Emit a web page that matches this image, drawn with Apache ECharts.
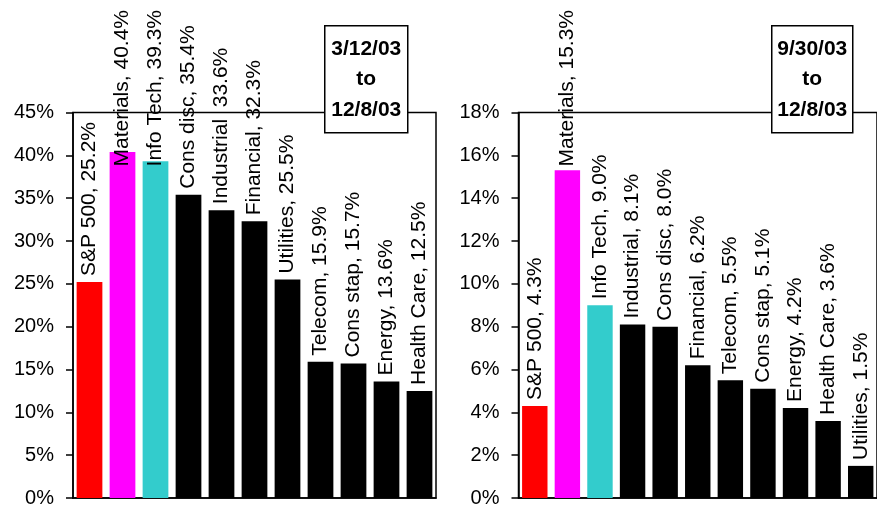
<!DOCTYPE html>
<html>
<head>
<meta charset="utf-8">
<script src="https://cdn.jsdelivr.net/npm/echarts@6/dist/echarts.min.js"></script>
<style>
html,body{margin:0;padding:0;background:#fff;}
#chart{width:877px;height:508px;}
</style>
</head>
<body>
<div id="chart"></div>
<script>
// ---- Data ----
const leftCategories = ['S&P 500','Materials','Info Tech','Cons disc','Industrial','Financial','Utilities','Telecom','Cons stap','Energy','Health Care'];
const leftValues = [25.2, 40.4, 39.3, 35.4, 33.6, 32.3, 25.5, 15.9, 15.7, 13.6, 12.5];
const leftSeparators = [', ', ', ', ', ', ', ', '  ', ', ', ', ', ', ', ', ', ', ', ', '];
const leftPeriod = ['3/12/03', 'to', '12/8/03'];
const leftTicks = {min: 0, max: 45, interval: 5};

const rightCategories = ['S&P 500','Materials','Info Tech','Industrial','Cons disc','Financial','Telecom','Cons stap','Energy','Health Care','Utilities'];
const rightValues = [4.3, 15.3, 9.0, 8.1, 8.0, 6.2, 5.5, 5.1, 4.2, 3.6, 1.5];
const rightSeparators = [', ', ', ', ', ', ', ', ', ', ', ', ', ', ', ', ', ', ', ', ', '];
const rightPeriod = ['9/30/03', 'to', '12/8/03'];
const rightTicks = {min: 0, max: 18, interval: 2};

// ---- Styles ----
const palette = ['#FF0000', '#FF00FF', '#33CCCC'];
const otherColor = '#000000';
const FONT = "'Liberation Sans', Arial, sans-serif";
const LABEL_SIZE = 21;
const LABEL_DIST = 6;
const LABEL_TOP_LIMIT = 10;

const measureCtx = document.createElement('canvas').getContext('2d');
measureCtx.font = LABEL_SIZE + 'px ' + FONT;

function labelText(cats, seps, values, i) {
  return cats[i] + seps[i] + values[i].toFixed(1) + '%';
}

function barData(values, shifts) {
  return values.map((v, i) => {
    const item = {
      value: v,
      itemStyle: {color: i < palette.length ? palette[i] : otherColor}
    };
    if (shifts && shifts[i]) {
      item.label = {distance: LABEL_DIST - shifts[i]};
    }
    return item;
  });
}

function makeSeries(idx, cats, values, seps, shifts) {
  return {
    type: 'bar',
    xAxisIndex: idx,
    yAxisIndex: idx,
    data: barData(values, shifts),
    barCategoryGap: '22%',
    animation: false,
    label: {
      show: true,
      position: 'top',
      distance: LABEL_DIST,
      rotate: 90,
      align: 'left',
      verticalAlign: 'middle',
      fontSize: LABEL_SIZE,
      fontFamily: FONT,
      color: '#000',
      formatter: function (p) {
        return labelText(cats, seps, values, p.dataIndex);
      }
    }
  };
}

function xAxisDef(idx, cats) {
  return {
    type: 'category',
    gridIndex: idx,
    data: cats,
    axisLine: {show: true, lineStyle: {color: '#000', width: 1.5}},
    axisTick: {show: false},
    axisLabel: {show: false},
    splitLine: {show: false}
  };
}

function yAxisDef(idx, t) {
  return {
    type: 'value',
    gridIndex: idx,
    min: t.min,
    max: t.max,
    interval: t.interval,
    axisLine: {show: true, lineStyle: {color: '#000', width: 1.5}},
    axisTick: {show: true, inside: false, length: 7, lineStyle: {color: '#000', width: 1.5}},
    axisLabel: {
      formatter: '{value}%',
      fontSize: 20,
      fontFamily: FONT,
      color: '#000',
      margin: 19
    },
    splitLine: {show: false}
  };
}

function periodBox(left, top, width, height, lines) {
  return {
    type: 'group',
    left: left,
    top: top,
    z: 100,
    children: [
      {
        type: 'rect',
        shape: {x: 0, y: 0, width: width, height: height},
        style: {fill: '#fff', stroke: '#000', lineWidth: 1.5}
      },
      {
        type: 'text',
        x: width / 2,
        y: height / 2,
        style: {
          text: lines.join('\n'),
          fill: '#000',
          font: 'bold 21px ' + FONT,
          textAlign: 'center',
          textVerticalAlign: 'middle',
          lineHeight: 30.5
        }
      }
    ]
  };
}

const chart = echarts.init(document.getElementById('chart'), null, {renderer: 'canvas'});

function buildOption(leftShifts, rightShifts) {
  return {
    backgroundColor: '#fff',
    animation: false,
    grid: [
      {left: 73, top: 112.5, width: 363, height: 389.2, show: true, borderColor: '#000', borderWidth: 1.5, backgroundColor: 'transparent', containLabel: false},
      {left: 518.5, top: 112.5, width: 365, height: 389.2, show: true, borderColor: '#000', borderWidth: 1.5, backgroundColor: 'transparent', containLabel: false}
    ],
    xAxis: [xAxisDef(0, leftCategories), xAxisDef(1, rightCategories)],
    yAxis: [yAxisDef(0, leftTicks), yAxisDef(1, rightTicks)],
    series: [
      makeSeries(0, leftCategories, leftValues, leftSeparators, leftShifts),
      makeSeries(1, rightCategories, rightValues, rightSeparators, rightShifts)
    ],
    graphic: [
      periodBox(324, 25, 83, 107, leftPeriod),
      periodBox(771, 25, 81, 107, rightPeriod)
    ]
  };
}

chart.setOption(buildOption(null, null));

// Keep labels inside the chart area: if a label would stick out at the top, push it down.
function computeShifts(gridIdx, cats, seps, values) {
  return values.map((v, i) => {
    const top = chart.convertToPixel({xAxisIndex: gridIdx, yAxisIndex: gridIdx}, [i, v])[1];
    const len = measureCtx.measureText(labelText(cats, seps, values, i)).width;
    const textTop = top - LABEL_DIST - len;
    return textTop < LABEL_TOP_LIMIT ? (LABEL_TOP_LIMIT - textTop) : 0;
  });
}

const leftShifts = computeShifts(0, leftCategories, leftSeparators, leftValues);
const rightShifts = computeShifts(1, rightCategories, rightSeparators, rightValues);
chart.setOption(buildOption(leftShifts, rightShifts), true);
</script>
</body>
</html>
